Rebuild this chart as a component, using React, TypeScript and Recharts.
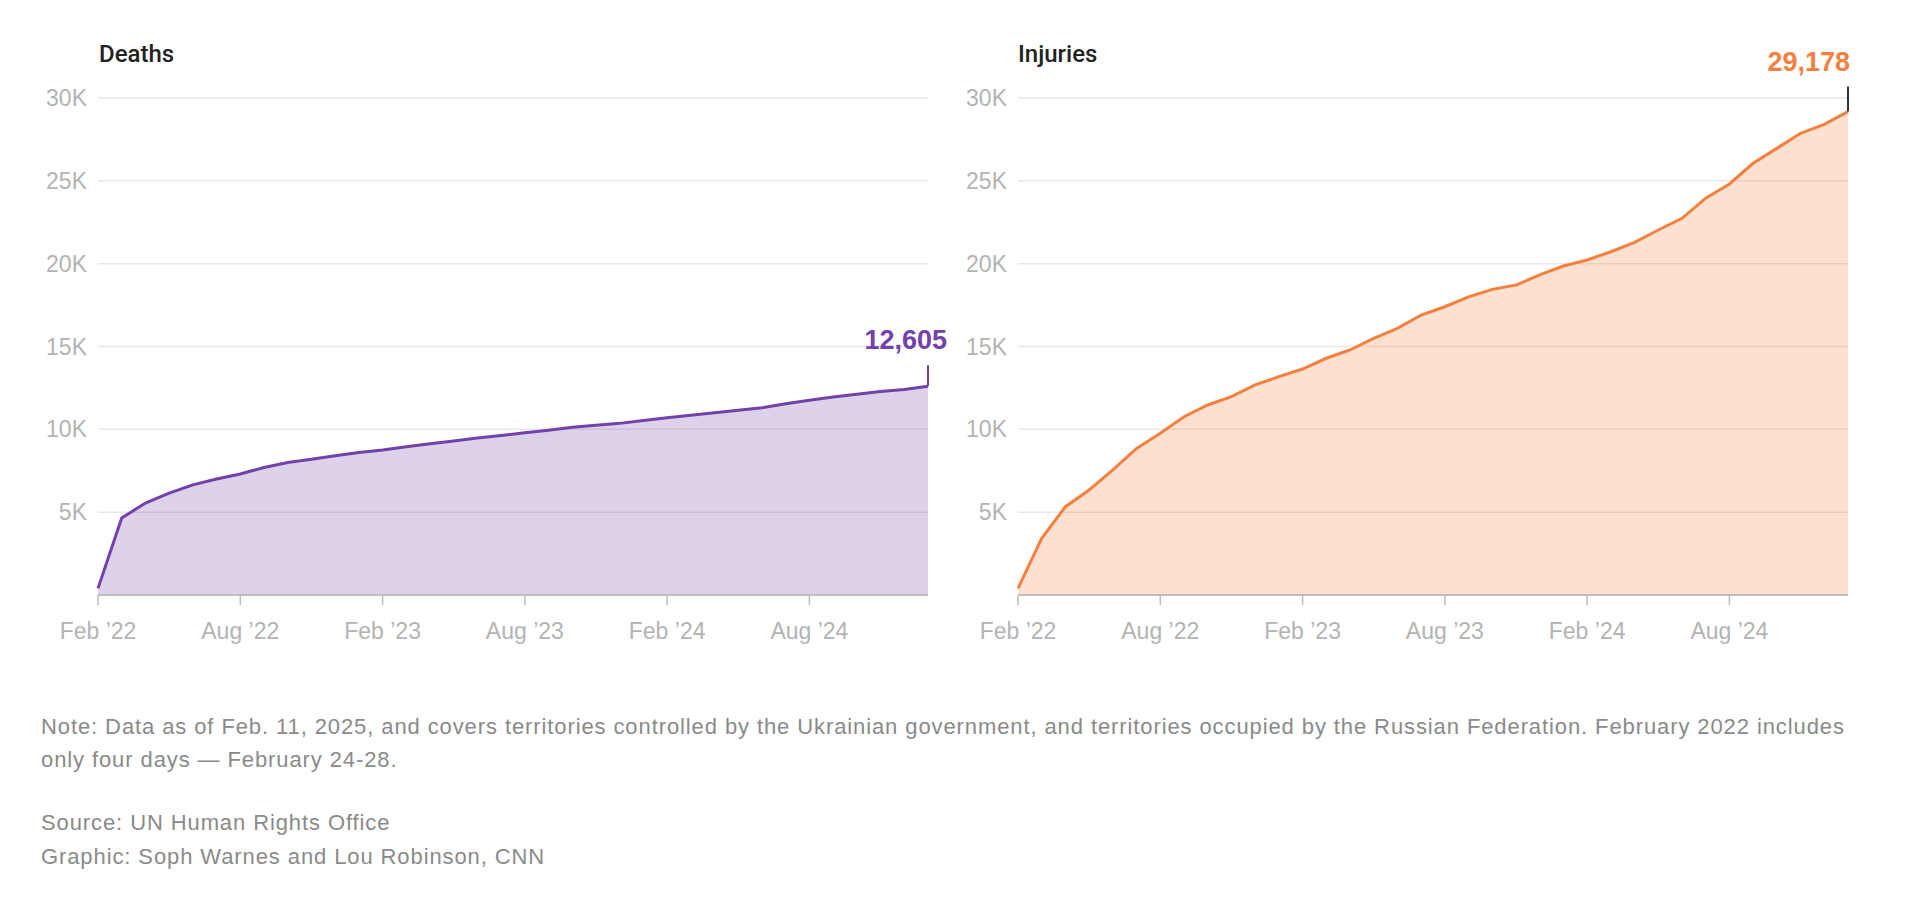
import React from 'react';
import { AreaChart, Area, XAxis, YAxis, CartesianGrid, ReferenceDot } from 'recharts';

const monthLabels = [
  'Feb 2022', 'Mar 2022', 'Apr 2022', 'May 2022', 'Jun 2022', 'Jul 2022', 'Aug 2022', 'Sep 2022', 'Oct 2022', 'Nov 2022', 'Dec 2022', 'Jan 2023',
  'Feb 2023', 'Mar 2023', 'Apr 2023', 'May 2023', 'Jun 2023', 'Jul 2023', 'Aug 2023', 'Sep 2023', 'Oct 2023', 'Nov 2023', 'Dec 2023', 'Jan 2024',
  'Feb 2024', 'Mar 2024', 'Apr 2024', 'May 2024', 'Jun 2024', 'Jul 2024', 'Aug 2024', 'Sep 2024', 'Oct 2024', 'Nov 2024', 'Dec 2024', 'Jan 2025',
];

const deaths = [
  400, 4650, 5550, 6150, 6650, 7000, 7300, 7700, 8000, 8200, 8400, 8600,
  8750, 8950, 9130, 9300, 9470, 9630, 9800, 9950, 10120, 10240, 10360, 10540,
  10700, 10850, 11000, 11150, 11300, 11550, 11760, 11950, 12120, 12280, 12400, 12605,
];

const injuries = [
  400, 3420, 5330, 6340, 7550, 8850, 9760, 10760, 11470, 11970, 12680, 13180,
  13640, 14290, 14790, 15490, 16100, 16900, 17400, 18000, 18450, 18710, 19320, 19860,
  20220, 20720, 21290, 22030, 22740, 23950, 24810, 26060, 26960, 27870, 28410, 29178,
];

const xTickIndices = [0, 6, 12, 18, 24, 30];
const xTickLabels = ['Feb \u201922', 'Aug \u201922', 'Feb \u201923', 'Aug \u201923', 'Feb \u201924', 'Aug \u201924'];
const yTicks = [5000, 10000, 15000, 20000, 25000, 30000];

const PURPLE = '#7241a9';
const ORANGE = '#f3803f';
const FONT = '"Liberation Sans", Arial, Helvetica, sans-serif';

const deathsData = monthLabels.map((m, i) => ({ i, month: m, value: deaths[i] }));
const injuriesData = monthLabels.map((m, i) => ({ i, month: m, value: injuries[i] }));

const lastIndex = monthLabels.length - 1;

function makeMarker(color: string, lineColor: string, lineLen: number, textDx: number, text: string) {
  return (props: any) => {
    const cx = props.cx;
    const cy = props.cy;
    if (cx == null || cy == null) return <g />;
    return (
      <g>
        <line x1={cx} y1={cy} x2={cx} y2={cy - lineLen} stroke={lineColor} strokeWidth={2} />
        <text
          x={cx + textDx}
          y={cy - lineLen - 16}
          textAnchor="end"
          fill={color}
          fontFamily={FONT}
          fontWeight="bold"
          fontSize={27}
        >
          {text}
        </text>
      </g>
    );
  };
}

function Panel(props: {
  data: any[];
  color: string;
  markerLine: string;
  markerLen: number;
  markerDx: number;
  label: string;
  yAxisWidth: number;
  width: number;
}) {
  const { data, color, markerLine, markerLen, markerDx, label, yAxisWidth, width } = props;
  return (
    <AreaChart
      width={width}
      height={680}
      data={data}
      margin={{ top: 98, right: 32, bottom: 25, left: 0 }}
    >
      <CartesianGrid vertical={false} stroke="#e8e8e8" strokeWidth={1.5} />
      <XAxis
        dataKey="i"
        type="number"
        domain={[0, lastIndex]}
        ticks={xTickIndices}
        tickFormatter={(v: number) => xTickLabels[xTickIndices.indexOf(v)]}
        height={60}
        stroke="#bdbdbd"
        axisLine={{ stroke: '#bdbdbd', strokeWidth: 2 }}
        tickLine={{ stroke: '#bdbdbd', strokeWidth: 1.5 }}
        tickSize={10}
        tickMargin={18}
        tick={{ fill: '#b3b3b3', fontSize: 23, fontFamily: FONT }}
        allowDecimals={false}
      />
      <YAxis
        type="number"
        domain={[0, 30000]}
        ticks={yTicks}
        width={yAxisWidth}
        axisLine={false}
        tickLine={false}
        tickSize={0}
        tickMargin={11}
        tickFormatter={(v: number) => `${v / 1000}K`}
        tick={{ fill: '#b3b3b3', fontSize: 23, fontFamily: FONT }}
      />
      <Area
        type="linear"
        dataKey="value"
        stroke={color}
        strokeWidth={3}
        fill={color}
        fillOpacity={0.24}
        dot={false}
        activeDot={false}
        isAnimationActive={false}
      />
      <ReferenceDot
        x={lastIndex}
        y={data[lastIndex].value}
        r={0}
        ifOverflow="visible"
        shape={makeMarker(color, markerLine, markerLen, markerDx, label)}
      />
    </AreaChart>
  );
}

export default function App() {
  return (
    <div style={{ position: 'absolute', left: 0, top: 0, width: 1920, height: 923, background: '#fff', fontFamily: FONT }}>
      <div style={{ position: 'absolute', left: 0, top: 0 }}>
        <Panel
          data={deathsData}
          color={PURPLE}
          markerLine={PURPLE}
          markerLen={21}
          markerDx={19}
          label="12,605"
          yAxisWidth={98}
          width={960}
        />
      </div>
      <div style={{ position: 'absolute', left: 940, top: 0 }}>
        <Panel
          data={injuriesData}
          color={ORANGE}
          markerLine="#333333"
          markerLen={25}
          markerDx={2}
          label="29,178"
          yAxisWidth={78}
          width={940}
        />
      </div>
      <div style={{ position: 'absolute', left: 99, top: 42, fontSize: 24, lineHeight: '24px', fontWeight: 500, color: '#222', fontFamily: 'Roboto, sans-serif' }}>
        Deaths
      </div>
      <div style={{ position: 'absolute', left: 1018, top: 42, fontSize: 24, lineHeight: '24px', fontWeight: 500, color: '#222', fontFamily: 'Roboto, sans-serif' }}>
        Injuries
      </div>
      <div style={{ position: 'absolute', left: 41, top: 710, width: 1870, fontSize: 22, letterSpacing: '0.9px', lineHeight: '33px', color: '#8a8a8a', whiteSpace: 'nowrap' }}>
        Note: Data as of Feb. 11, 2025, and covers territories controlled by the Ukrainian government, and territories occupied by the Russian Federation. February 2022 includes
        <br />
        only four days — February 24-28.
      </div>
      <div style={{ position: 'absolute', left: 41, top: 806, width: 1860, fontSize: 22, letterSpacing: '0.9px', lineHeight: '34px', color: '#8a8a8a', whiteSpace: 'nowrap' }}>
        Source: UN Human Rights Office
        <br />
        Graphic: Soph Warnes and Lou Robinson, CNN
      </div>
    </div>
  );
}
